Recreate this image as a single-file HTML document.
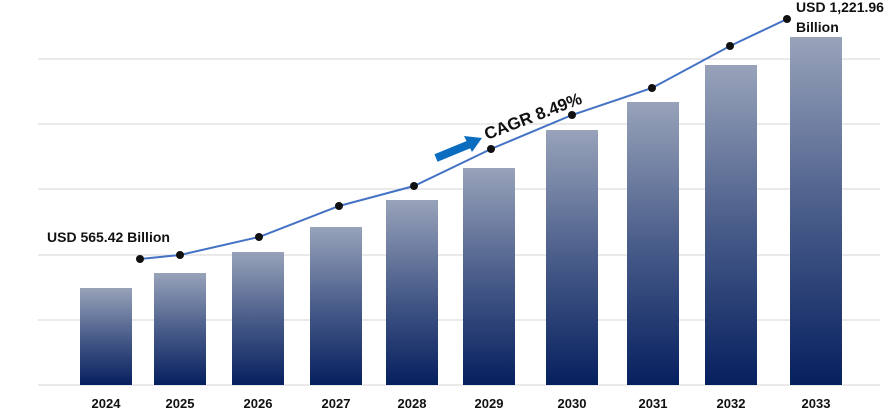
<!DOCTYPE html>
<html><head><meta charset="utf-8"><style>
html,body{margin:0;padding:0;background:#fff;}
svg{display:block;font-family:"Liberation Sans",sans-serif;}
</style></head><body>
<svg id="chart" width="891" height="420" viewBox="0 0 891 420">
<defs>
<linearGradient id="barGrad" x1="0" y1="0" x2="0" y2="1">
<stop offset="0" stop-color="#98a3ba"/><stop offset="0.5" stop-color="#4a5d8a"/><stop offset="1" stop-color="#06205f"/>
</linearGradient>
</defs>
<g id="grid"></g>
<g id="bars"></g>
<g id="line"></g>
<g id="labels"></g>
<text x="47" y="242" font-size="14" font-weight="bold" fill="#111">USD 565.42 Billion</text>
<text x="796" y="12" font-size="14" font-weight="bold" fill="#111">USD 1,221.96</text>
<text x="796" y="32" font-size="14" font-weight="bold" fill="#111">Billion</text>
<g>
<line x1="436" y1="158" x2="470" y2="144" stroke="#0b6dc0" stroke-width="8"/>
<polygon points="464,136 482,138 472,152" fill="#0b6dc0"/>
</g>
<text x="0" y="0" transform="translate(487,140) rotate(-21)" font-size="17" font-weight="bold" fill="#111">CAGR 8.49%</text>
</svg>
<script>
const years = ["2024","2025","2026","2027","2028","2029","2030","2031","2032","2033"];
const barValues = [97,112,133,158,185,217,255,283,320,348];
const lineValues = [126,130,148,179,199,236,270,297,339,366];
const gridTicks = [0,65,130,196,261,326];
const barLefts = [80,154,232,310,386,463,546,627,705,790];
const lineXs = [140,180,259,339,414,491,572,652,730,787];
const NS="http://www.w3.org/2000/svg";
const base=385;
function y(v){return base-v;}
function mk(t,a,p){const e=document.createElementNS(NS,t);for(const k in a)e.setAttribute(k,a[k]);p.appendChild(e);return e;}
const G=document.getElementById('grid'),B=document.getElementById('bars'),L=document.getElementById('line'),T=document.getElementById('labels');
gridTicks.forEach(v=>{const e=mk('line',{x1:38,x2:880,y1:y(v),y2:y(v),stroke:'#d4d4d4','stroke-width':1},G);

});
years.forEach((yr,i)=>{
const r=mk('rect',{x:barLefts[i],y:y(barValues[i]),width:52,height:barValues[i],fill:'url(#barGrad)'},B);


const t=mk('text',{x:barLefts[i]+26,y:408,'text-anchor':'middle','font-size':13,'font-weight':'bold',fill:'#111'},T);
t.textContent=yr;


});
const pl=mk('polyline',{points:lineValues.map((v,i)=>lineXs[i]+','+y(v)).join(' '),fill:'none',stroke:'#4472c4','stroke-width':2},L);


lineValues.forEach((v,i)=>{const c=mk('circle',{cx:lineXs[i],cy:y(v),r:4,fill:'#111'},L);

});
</script>
</body></html>
